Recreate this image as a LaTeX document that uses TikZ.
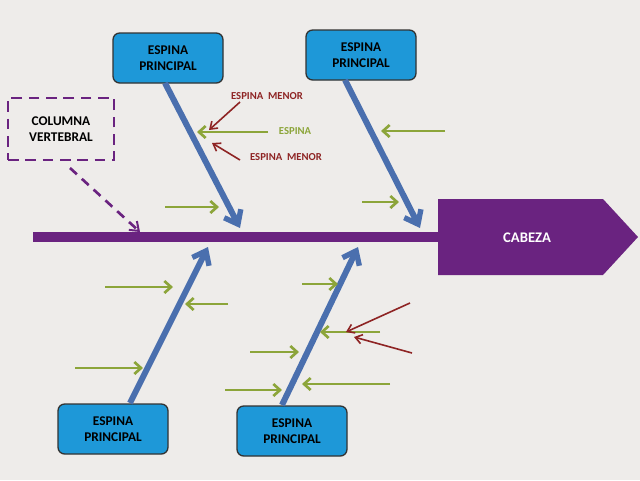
\documentclass[tikz,border=0pt]{standalone}
\usepackage{fontspec}
\setmainfont{Carlito}
\usetikzlibrary{arrows.meta}
\definecolor{bg}{HTML}{EEECEA}
\definecolor{spinec}{HTML}{6A2380}
\definecolor{boxc}{HTML}{1E98D8}
\definecolor{bluea}{HTML}{4A6FAE}
\definecolor{greena}{HTML}{8CA53A}
\definecolor{reda}{HTML}{8E2424}
\tikzset{
 mainbox/.style={draw=black!80,line width=1pt,fill=boxc,rounded corners=5pt,minimum width=110\unitx,minimum height=50\unitx,align=center,font=\bfseries\fontsize{10}{12}\selectfont,inner sep=0pt},
 bone/.style={draw=bluea,line width=4.5pt,-{Straight Barb[length=9pt,width=14pt,line width=4pt]}},
 gbone/.style={draw=greena,line width=2.2pt,-{Straight Barb[length=5pt,width=9pt,line width=2pt]}},
 rbone/.style={draw=reda,line width=1.2pt,-{Straight Barb[length=5pt,width=7pt,line width=1.2pt]}},
 glab/.style={text=greena,font=\bfseries\fontsize{8}{9}\selectfont},
 rlab/.style={text=reda,font=\bfseries\fontsize{8}{9}\selectfont},
}
\newlength{\unitx}\setlength{\unitx}{0.75pt}
\begin{document}
\begin{tikzpicture}[x=0.75pt,y=-0.75pt]
\useasboundingbox (0,0) rectangle (640,480);
\fill[bg] (0,0) rectangle (640,480);
% spine
\draw[spinec,line width=7pt] (33,237) -- (440,237);
\node[fill=spinec,draw=none,inner sep=0pt] (head) at (527,237) {};
\fill[spinec] (438,199) -- (603,199) -- (638,237) -- (603,275) -- (438,275) -- cycle;
\node[text=white,font=\bfseries\fontsize{11}{13}\selectfont] (cab) at (527,238) {CABEZA};
% boxes
\node[mainbox] (t1) at (168,58) {ESPINA\\PRINCIPAL};
\node[mainbox] (t2) at (361,55) {ESPINA\\PRINCIPAL};
\node[mainbox] (b1) at (113,429) {ESPINA\\PRINCIPAL};
\node[mainbox] (b2) at (292,431) {ESPINA\\PRINCIPAL};
\node[draw=spinec,dashed,line width=1.5pt,dash pattern=on 8pt off 5pt,minimum width=106\unitx,minimum height=62\unitx,align=center,font=\bfseries\fontsize{10}{12}\selectfont,inner sep=0pt] (col) at (61,129) {COLUMNA\\VERTEBRAL};
% coordinates
\coordinate (t1e) at (240,228); \coordinate (t2e) at (420,228);
\coordinate (b1e) at (208,247); \coordinate (b2e) at (358,247);
\coordinate (ce) at (140,232);
\draw[spinec,line width=2pt,dashed,dash pattern=on 7pt off 5pt,-{Straight Barb[length=6pt,width=9pt,line width=1.5pt]}] (70,168) -- (ce);
% main bones
\draw[bone] (165,83) -- (t1e);
\draw[bone] (345,80) -- (t2e);
\draw[bone] (130,403) -- (b1e);
\draw[bone] (282,405) -- (b2e);
% green
\node[glab] (l1) at (295,131) {ESPINA};
\coordinate (g1s) at (268,132); \coordinate (g1e) at (197,132);
\draw[gbone] (g1s) -- (g1e);
\coordinate (g2s) at (165,207); \coordinate (g2e) at (219,207); \draw[gbone] (g2s) -- (g2e);
\coordinate (g3s) at (445,131); \coordinate (g3e) at (381,131); \draw[gbone] (g3s) -- (g3e);
\coordinate (g4s) at (362,202); \coordinate (g4e) at (399,202); \draw[gbone] (g4s) -- (g4e);
\coordinate (g5s) at (105,287); \coordinate (g5e) at (173,287); \draw[gbone] (g5s) -- (g5e);
\coordinate (g6s) at (228,304); \coordinate (g6e) at (185,304); \draw[gbone] (g6s) -- (g6e);
\coordinate (g7s) at (75,368); \coordinate (g7e) at (143,368); \draw[gbone] (g7s) -- (g7e);
\coordinate (g8s) at (302,284); \coordinate (g8e) at (338,284); \draw[gbone] (g8s) -- (g8e);
\coordinate (g9s) at (250,352); \coordinate (g9e) at (299,352); \draw[gbone] (g9s) -- (g9e);
\coordinate (g10s) at (225,390); \coordinate (g10e) at (282,390); \draw[gbone] (g10s) -- (g10e);
\coordinate (g11s) at (390,384); \coordinate (g11e) at (302,384); \draw[gbone] (g11s) -- (g11e);
\coordinate (g12s) at (380,332); \coordinate (g12e) at (320,332); \draw[gbone] (g12s) -- (g12e);
% red
\node[rlab] (r1) at (267,96) {ESPINA\ \ MENOR};
\node[rlab] (r2) at (286,157) {ESPINA\ \ MENOR};
\coordinate (r1s) at (240,102); \coordinate (r1e) at (209,130); \draw[rbone] (r1s) -- (r1e);
\coordinate (r2s) at (240,160); \coordinate (r2e) at (212,143); \draw[rbone] (r2s) -- (r2e);
\coordinate (r3s) at (410,303); \coordinate (r3e) at (346,332); \draw[rbone] (r3s) -- (r3e);
\coordinate (r4s) at (412,353); \coordinate (r4e) at (354,337); \draw[rbone] (r4s) -- (r4e);
\end{tikzpicture}
\end{document}
